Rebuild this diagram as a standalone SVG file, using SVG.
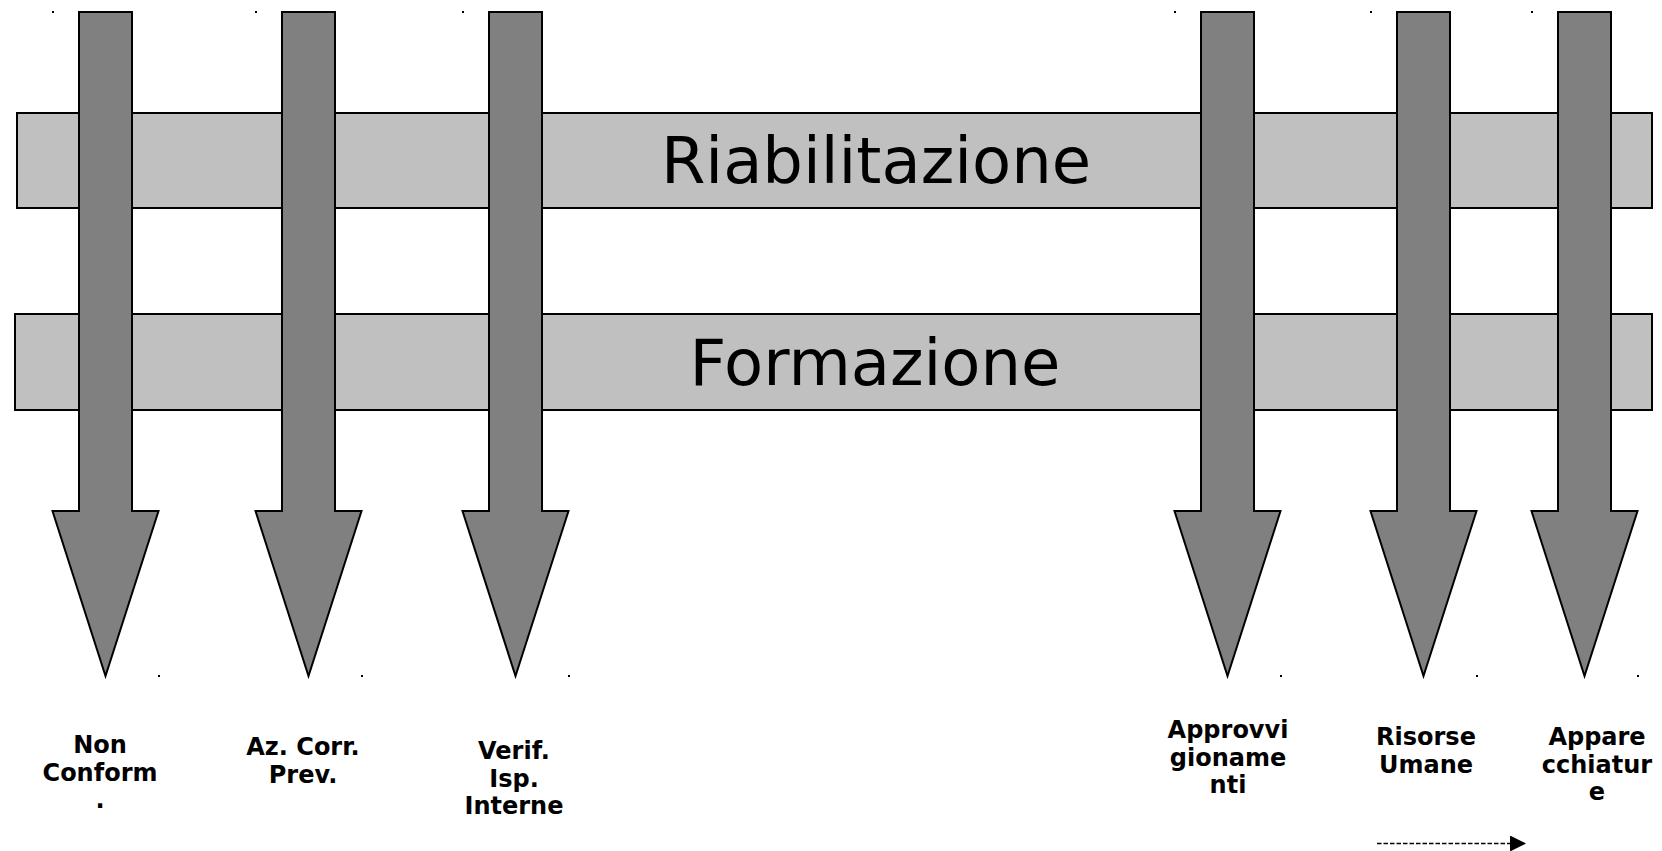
<svg xmlns="http://www.w3.org/2000/svg" width="1662" height="851" viewBox="0 0 1662 851">
<style>
.band{fill:#c0c0c0;stroke:#000;stroke-width:2}
.arr{fill:#808080;stroke:#000;stroke-width:2;stroke-linejoin:miter}
.big{font-family:"DejaVu Sans",sans-serif;font-size:64px;fill:#000;text-anchor:middle}
.lbl{font-family:"DejaVu Sans",sans-serif;font-weight:bold;font-size:24px;fill:#000;text-anchor:middle}
.dot{fill:#000}
</style>
<defs>
<marker id="ah" markerWidth="16" markerHeight="16" refX="16" refY="8" orient="auto" markerUnits="userSpaceOnUse">
<path d="M0,0 L16,8 L0,16 Z" fill="#000"/>
</marker>
<path id="bigArrow" class="arr" d="M-26.5,12 H26.5 V511 H53 L0,676 L-53,511 H-26.5 Z"/>
</defs>
<rect width="1662" height="851" fill="#fff"/>
<g id="riabilitazione">
<rect class="band" x="17" y="113" width="1635" height="95"/>
<text class="big" x="876" y="183">Riabilitazione</text>
</g>
<g id="formazione">
<rect class="band" x="15" y="314" width="1637" height="96"/>
<text class="big" x="875" y="385">Formazione</text>
</g>
<g id="non-conform">
<use href="#bigArrow" x="105.5"/>
<rect class="dot" x="52" y="11" width="2" height="2"/>
<rect class="dot" x="158" y="675" width="2" height="2"/>
<text class="lbl" x="100"><tspan x="100" y="753">Non</tspan><tspan x="100" y="781">Conform</tspan><tspan x="100" y="808">.</tspan></text>
</g>
<g id="az-corr-prev">
<use href="#bigArrow" x="308.5"/>
<rect class="dot" x="255" y="11" width="2" height="2"/>
<rect class="dot" x="361" y="675" width="2" height="2"/>
<text class="lbl"><tspan x="303" y="755">Az. Corr.</tspan><tspan x="303" y="783">Prev.</tspan></text>
</g>
<g id="verif-isp-interne">
<use href="#bigArrow" x="515.5"/>
<rect class="dot" x="462" y="11" width="2" height="2"/>
<rect class="dot" x="568" y="675" width="2" height="2"/>
<text class="lbl"><tspan x="514" y="759">Verif.</tspan><tspan x="514" y="787">Isp.</tspan><tspan x="514" y="814">Interne</tspan></text>
</g>
<g id="approvvigionamenti">
<use href="#bigArrow" x="1227.5"/>
<rect class="dot" x="1174" y="11" width="2" height="2"/>
<rect class="dot" x="1280" y="675" width="2" height="2"/>
<text class="lbl"><tspan x="1228" y="738">Approvvi</tspan><tspan x="1228" y="766">gioname</tspan><tspan x="1228" y="793">nti</tspan></text>
</g>
<g id="risorse-umane">
<use href="#bigArrow" x="1423.5"/>
<rect class="dot" x="1370" y="11" width="2" height="2"/>
<rect class="dot" x="1476" y="675" width="2" height="2"/>
<text class="lbl"><tspan x="1426" y="745">Risorse</tspan><tspan x="1426" y="773">Umane</tspan></text>
</g>
<g id="apparecchiature">
<use href="#bigArrow" x="1584.5"/>
<rect class="dot" x="1531" y="11" width="2" height="2"/>
<rect class="dot" x="1637" y="675" width="2" height="2"/>
<text class="lbl"><tspan x="1597" y="745">Appare</tspan><tspan x="1597" y="773">cchiatur</tspan><tspan x="1597" y="800">e</tspan></text>
</g>
<g id="connectors">
<line x1="1377" y1="843.5" x2="1526" y2="843.5" stroke="#000" stroke-width="1.6" stroke-dasharray="4.5,2" marker-end="url(#ah)"/>
</g>
</svg>
